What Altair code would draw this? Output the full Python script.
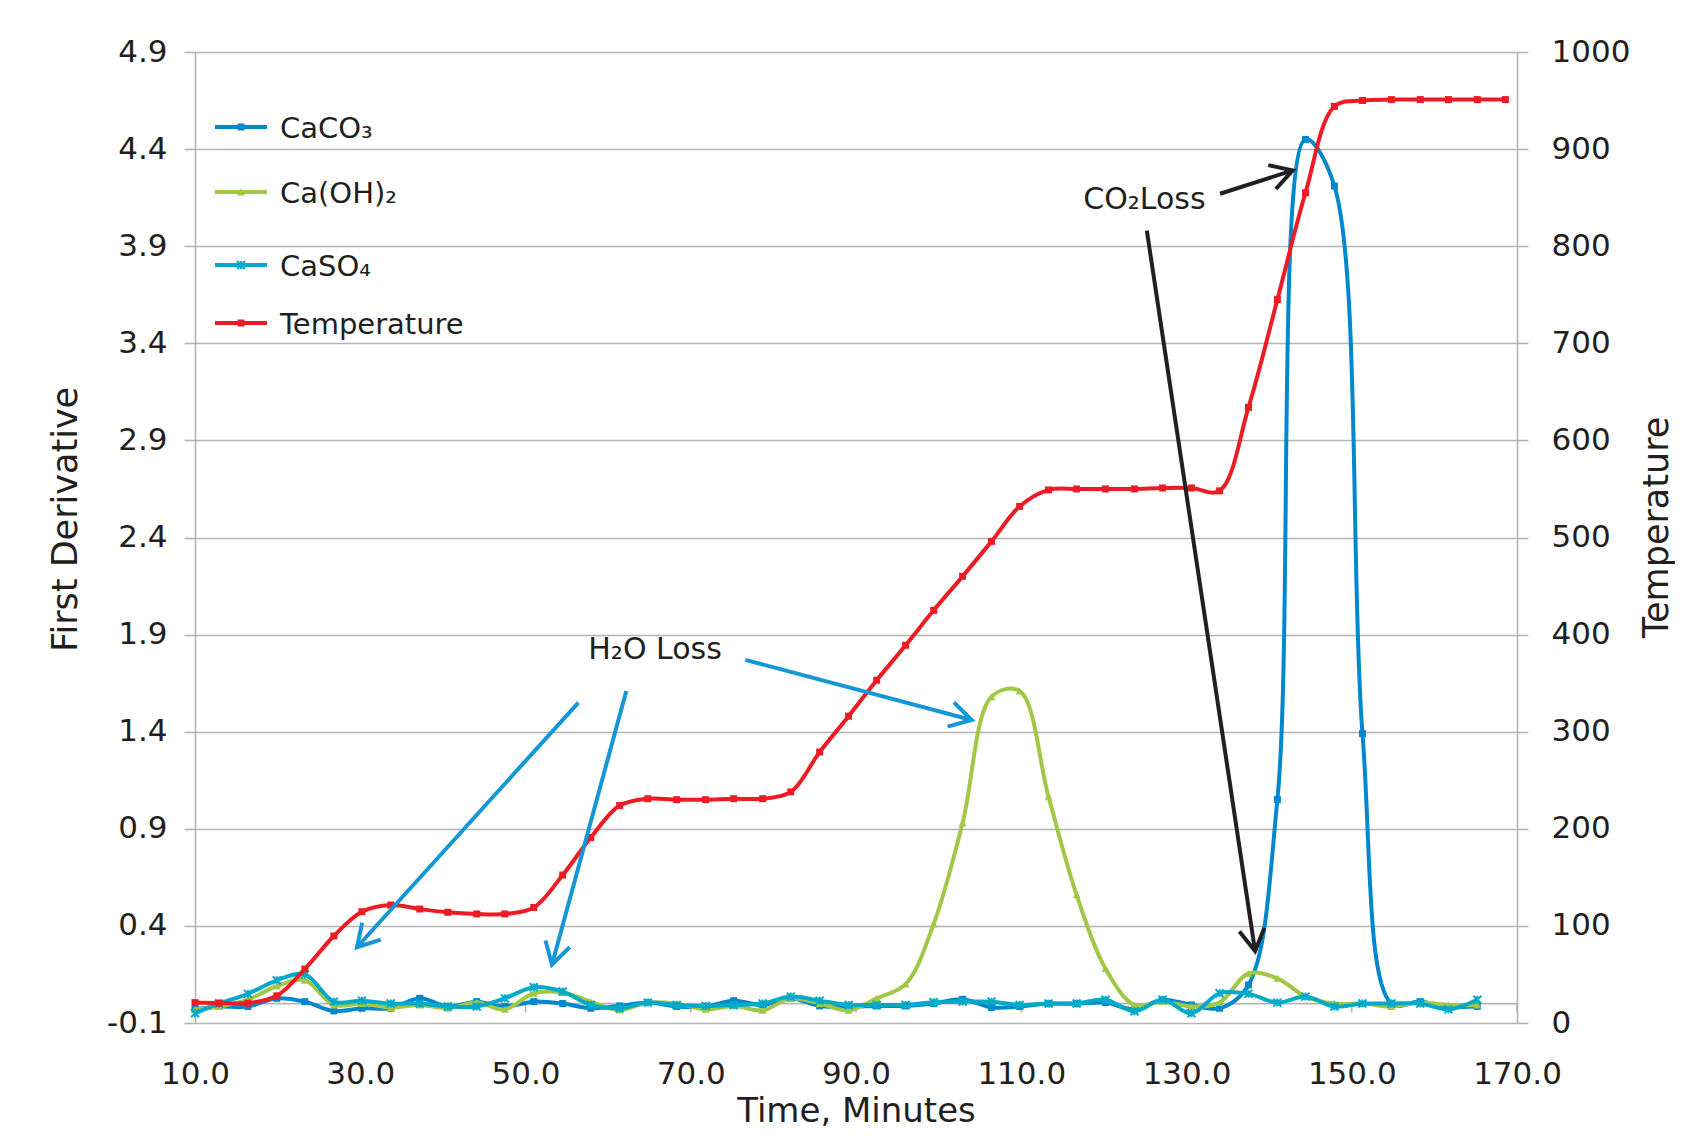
import math
import altair as alt
import pandas as pd

# ---------------- data ----------------
time_min = [10.0, 12.9, 16.4, 19.9, 23.3, 26.8, 30.2, 33.7, 37.2, 40.6,
            44.1, 47.5, 51.0, 54.5, 57.9, 61.4, 64.8, 68.3, 71.8, 75.2,
            78.7, 82.1, 85.6, 89.1, 92.5, 96.0, 99.4, 102.9, 106.4, 109.8,
            113.3, 116.7, 120.2, 123.7, 127.1, 130.6, 134.0, 137.5, 141.0, 144.4,
            147.9, 151.3, 154.8, 158.3, 161.7, 165.2, 168.6]

caco3 = [-0.03, -0.015, -0.015, 0.027, 0.01, -0.038, -0.024, -0.024, 0.027, -0.015,
         0.01, -0.015, 0.01, 0.0, -0.024, -0.012, 0.005, -0.015, -0.015, 0.015,
         -0.007, 0.027, -0.012, -0.015, -0.012, -0.012, 0.0, 0.022, -0.02, -0.015,
         0.0, 0.0, 0.005, -0.03, 0.02, -0.007, -0.024, 0.096, 1.05, 4.45,
         4.21, 1.39, 0.0, 0.01, -0.015, -0.015]

caoh2 = [-0.03, -0.015, 0.02, 0.09, 0.12, -0.007, 0.0, -0.02, -0.007, -0.024,
         0.005, -0.03, 0.053, 0.057, 0.01, -0.033, 0.005, 0.0, -0.03, -0.012,
         -0.035, 0.027, 0.0, -0.035, 0.027, 0.10, 0.41, 0.93, 1.58, 1.61,
         1.065, 0.56, 0.18, -0.007, 0.01, -0.015, 0.005, 0.155, 0.13, 0.036,
         0.0, 0.0, -0.015, 0.005, -0.007, -0.007]

caso4 = [-0.05, 0.0, 0.05, 0.12, 0.15, 0.01, 0.015, 0.0, 0.0, -0.015,
         -0.015, 0.027, 0.084, 0.062, -0.007, -0.024, 0.005, -0.007, -0.012, -0.007,
         0.0, 0.036, 0.015, -0.007, -0.007, -0.007, 0.007, 0.01, 0.01, -0.007,
         0.0, 0.0, 0.02, -0.04, 0.02, -0.05, 0.053, 0.05, 0.005, 0.036,
         -0.015, 0.0, 0.0, 0.0, -0.03, 0.02]

temperature = [21, 20.5, 20.5, 28, 55.6, 89.6, 114.6, 121.5, 117.4, 114,
               112.3, 112.3, 119, 152.4, 191, 224, 231, 230, 230, 231,
               231, 238, 279, 316, 353, 389, 425, 460, 496, 532,
               549, 550, 550, 550, 551, 551, 548, 634, 745, 855,
               944, 950, 951, 951, 951, 951, 951]

series_names = ["CaCO₃", "Ca(OH)₂", "CaSO₄", "Temperature"]
series_colors = ["#0088CE", "#A0C846", "#00AAC8", "#ED1C24"]

x_ticks = [10, 30, 50, 70, 90, 110, 130, 150, 170]
deriv_ticks = [-0.1, 0.4, 0.9, 1.4, 1.9, 2.4, 2.9, 3.4, 3.9, 4.4, 4.9]
temp_ticks = [0, 100, 200, 300, 400, 500, 600, 700, 800, 900, 1000]

note_text = ["H₂O Loss", "CO₂Loss"]
note_t = [57.6, 117.5]
note_v = [1.82, 4.14]

arrow_t0 = [56.4, 62.2, 76.6, 134.05, 125.2]
arrow_v0 = [1.55, 1.61, 1.77, 4.17, 3.98]
arrow_t1 = [29.6, 53.2, 104.0, 142.85, 138.3]
arrow_v1 = [0.29, 0.20, 1.46, 4.29, 0.27]
arrow_color = ["#1496D7", "#1496D7", "#1496D7", "#231F20", "#231F20"]

# ---------------- styling ----------------
FONT = "DejaVu Sans"
INK = "#231F20"
GRID = "#B4B4B4"
PLOT_W, PLOT_H = 1322, 971
CURVE = "catmull-rom"

x_scale = alt.Scale(domain=[10, 170], nice=False, zero=False)
d_scale = alt.Scale(domain=[-0.1, 4.9], nice=False, zero=False)
t_scale = alt.Scale(domain=[0, 1000], nice=False, zero=False)

x_axis = alt.Axis(values=x_ticks, format=".1f", grid=False, domain=False, ticks=False,
                  labelFont=FONT, labelFontSize=31, labelColor=INK, labelPadding=36,
                  labelFlush=False, labelOverlap=False,
                  title="Time, Minutes", titleFont=FONT, titleFontSize=34,
                  titleFontWeight="normal", titleColor=INK,
                  titleY=88, titleBaseline="middle", titleAlign="center")

left_axis = alt.Axis(orient="left", values=deriv_ticks,
                     labelExpr="datum.value < 0 ? '-' + format(-datum.value, '.1f') : format(datum.value, '.1f')",
                     grid=True, gridColor=GRID, gridWidth=1.6,
                     domain=True, domainColor=GRID, domainWidth=1.6,
                     ticks=True, tickColor=GRID, tickWidth=1.6, tickSize=11,
                     labelFont=FONT, labelFontSize=31, labelColor=INK, labelPadding=17,
                     labelOverlap=False,
                     title="First Derivative", titleFont=FONT, titleFontSize=35,
                     titleFontWeight="normal", titleColor=INK, titleAngle=270,
                     titleX=-130, titleY=467, titleAlign="center", titleBaseline="middle")

right_axis = alt.Axis(orient="right", values=temp_ticks, format="d",
                      grid=False, domain=True, domainColor=GRID, domainWidth=1.6,
                      ticks=True, tickColor=GRID, tickWidth=1.6, tickSize=11,
                      labelFont=FONT, labelFontSize=31, labelColor=INK, labelPadding=23,
                      labelOverlap=False,
                      title="Temperature", titleFont=FONT, titleFontSize=35,
                      titleFontWeight="normal", titleColor=INK, titleAngle=270,
                      titleX=139, titleY=475, titleAlign="center", titleBaseline="middle")


def X(field):
    return alt.X(field, type="quantitative", scale=x_scale, axis=x_axis)


# ---------------- base: zero line with x ticks ----------------
tick_df = pd.DataFrame({"t": x_ticks})
zero_line = alt.Chart(tick_df.head(1)).mark_rule(color=GRID, strokeWidth=1.6).encode(
    x=alt.value(0), x2=alt.value(PLOT_W),
    y=alt.YDatum(0, type="quantitative", scale=d_scale, axis=None))
zero_ticks = alt.Chart(tick_df).mark_tick(orient="vertical", size=9, thickness=1.6,
                                          yOffset=4.5, color=GRID, opacity=1).encode(
    x=X("t"),
    y=alt.YDatum(0, type="quantitative", scale=d_scale, axis=None))
base = alt.layer(zero_line, zero_ticks)

# ---------------- derivative series ----------------
STAR = "M-1,-1L1,1M-1,1L1,-1M0,-1L0,1"
marker_defs = [
    dict(shape="square", size=49, filled=True, strokeWidth=0),
    dict(shape="triangle-up", size=64, filled=True, strokeWidth=0),
    dict(shape=STAR, size=64, filled=False, strokeWidth=2),
    dict(shape="square", size=49, filled=True, strokeWidth=0),
]

deriv_values = [caco3, caoh2, caso4]
deriv_layers = []
for i, vals in enumerate(deriv_values):
    df = pd.DataFrame({"t": time_min[:len(vals)], "v": vals})
    y_enc = alt.Y("v:Q", scale=d_scale, axis=left_axis)
    line = alt.Chart(df).mark_line(interpolate=CURVE, strokeWidth=4,
                                   color=series_colors[i]).encode(x=X("t"), y=y_enc)
    pts = alt.Chart(df).mark_point(color=series_colors[i], opacity=1,
                                   **marker_defs[i]).encode(x=X("t"), y=y_enc)
    deriv_layers += [line, pts]
deriv = alt.layer(*deriv_layers)

# ---------------- temperature ----------------
temp_df = pd.DataFrame({"t": time_min, "T": temperature})
ty = alt.Y("T:Q", scale=t_scale, axis=right_axis)
temp_line = alt.Chart(temp_df).mark_line(interpolate=CURVE, strokeWidth=4,
                                         color=series_colors[3]).encode(x=X("t"), y=ty)
temp_pts = alt.Chart(temp_df).mark_point(color=series_colors[3], opacity=1,
                                         **marker_defs[3]).encode(x=X("t"), y=ty)
temp = alt.layer(temp_line, temp_pts)

# ---------------- annotations ----------------
px_per_min = PLOT_W / (170 - 10)
px_per_unit = PLOT_H / (4.9 - (-0.1))
angles = [math.degrees(math.atan2(-(v1 - v0) * px_per_unit, (t1 - t0) * px_per_min)) % 360
          for t0, v0, t1, v1 in zip(arrow_t0, arrow_v0, arrow_t1, arrow_v1)]
arrow_df = pd.DataFrame({"t0": arrow_t0, "v0": arrow_v0, "t1": arrow_t1, "v1": arrow_v1,
                         "color": arrow_color, "angle": angles})

shafts = alt.Chart(arrow_df).mark_rule(strokeWidth=4, strokeCap="butt").encode(
    x=X("t0"), x2="t1:Q",
    y=alt.Y("v0:Q", scale=d_scale, axis=None), y2="v1:Q",
    color=alt.Color("color:N", scale=None))
heads = alt.Chart(arrow_df).mark_point(shape="M-1,-0.58L0,0L-1,0.58", filled=False,
                                       size=1875, strokeWidth=4, strokeJoin="miter",
                                       strokeCap="butt", opacity=1).encode(
    x=X("t1"), y=alt.Y("v1:Q", scale=d_scale, axis=None),
    angle=alt.Angle("angle:Q", scale=None),
    color=alt.Color("color:N", scale=None))

note_df = pd.DataFrame({"t": note_t, "v": note_v, "label": note_text})
notes = alt.Chart(note_df).mark_text(align="left", baseline="middle", font=FONT,
                                     fontSize=30, color=INK).encode(
    x=X("t"), y=alt.Y("v:Q", scale=d_scale, axis=None), text="label:N")

# manual legend (inside the plot, top-left)
legend_y = [75, 140, 213, 271]
legend_layers = []
for i, name in enumerate(series_names):
    ldf = pd.DataFrame({"label": [name]})
    ly = legend_y[i]
    legend_layers.append(alt.Chart(ldf).mark_rule(strokeWidth=4, color=series_colors[i]).encode(
        x=alt.value(20), x2=alt.value(72), y=alt.value(ly)))
    legend_layers.append(alt.Chart(ldf).mark_point(color=series_colors[i], opacity=1,
                                                   **marker_defs[i]).encode(
        x=alt.value(46), y=alt.value(ly)))
    legend_layers.append(alt.Chart(ldf).mark_text(align="left", baseline="middle", font=FONT,
                                                  fontSize=29, color=INK).encode(
        x=alt.value(85), y=alt.value(ly + 2), text="label:N"))

annot = alt.layer(shafts, heads, notes, *legend_layers)

chart = alt.layer(base, deriv, temp, annot).resolve_scale(y="independent").properties(
    width=PLOT_W, height=PLOT_H,
    padding={"left": 187, "top": 44, "right": 158, "bottom": 108},
    autosize=alt.AutoSizeParams(type="none"),
    background="white",
).configure_view(stroke=None)

chart.save("out.html", embed_options={"renderer": "svg", "actions": False})
